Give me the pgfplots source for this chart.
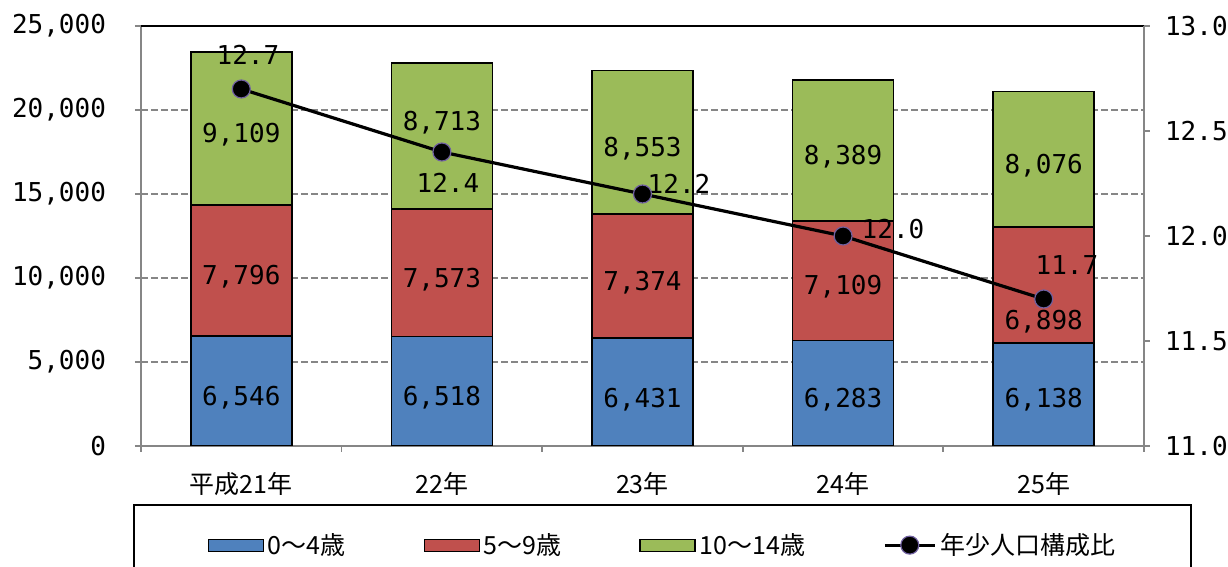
\documentclass[border=0pt]{standalone}
\usepackage{fontspec}
\setmainfont{Noto Sans CJK JP}
\newfontfamily\numfont{DejaVu Sans Mono}
\usepackage{pgfplots}
\pgfplotsset{compat=1.18}
\definecolor{cA}{HTML}{4F81BD}
\definecolor{cB}{HTML}{C0504D}
\definecolor{cC}{HTML}{9BBB59}
\definecolor{axgray}{HTML}{868686}
\definecolor{mkedge}{HTML}{7060A0}
\newcommand{\nf}{\numfont\fontsize{13}{15}\selectfont}
\newcommand{\jf}{\fontsize{12.5}{15}\selectfont}
\pgfplotsset{
  linelegend/.style={legend image code/.code={\draw[mark repeat=2,mark phase=2,##1] plot coordinates {(0pt,0pt)(12.5pt,0pt)(25pt,0pt)};}},
  barlegend/.style={legend image code/.code={\draw[fill=#1,draw=black,line width=0.6pt] (0pt,-3pt) rectangle (27.5pt,3pt);}},
}
\begin{document}
\begin{tikzpicture}
\path[use as bounding box] (-70.5pt,-60.5pt) rectangle (543.5pt,223pt);
\clip (-70.5pt,-60.5pt) rectangle (543.5pt,223pt);
\begin{axis}[
  at={(0pt,0pt)}, anchor=south west,
  scale only axis, width=501.5pt, height=210pt,
  xmin=-0.5, xmax=4.5, ymin=0, ymax=25000,
  ybar stacked, bar width=50.5pt,
  axis x line*=bottom, axis y line*=left,
  xtick={0,1,2,3,4},
  xticklabels={平成21年,22年,23年,24年,25年},
  minor xtick={-0.5,0.5,1.5,2.5,3.5,4.5},
  major x tick style={draw=none},
  tick align=outside,
  major tick length=3pt, minor tick length=3pt,
  ytick={0,5000,10000,15000,20000,25000},
  scaled y ticks=false,
  ymajorgrids,
  major grid style={axgray, dash pattern=on 3.5pt off 1.5pt, line width=0.8pt},
  extra y ticks={25000}, extra y tick labels={},
  extra y tick style={grid=major, major grid style={black, solid, line width=0.7pt}, major tick length=0pt},
  axis line style={axgray, line width=0.9pt},
  tick style={axgray, line width=0.9pt},
  /pgf/number format/1000 sep={,},
  /pgf/number format/assume math mode=true,
  yticklabel style={font=\nf, xshift=-11pt},
  xticklabel style={font=\jf, yshift=-6.5pt},
]
\addplot[fill=cA, draw=black, line width=0.8pt] coordinates {(0,6546)(1,6518)(2,6431)(3,6283)(4,6138)};
\addplot[fill=cB, draw=black, line width=0.8pt] coordinates {(0,7796)(1,7573)(2,7374)(3,7109)(4,6898)};
\addplot[fill=cC, draw=black, line width=0.8pt] coordinates {(0,9109)(1,8713)(2,8553)(3,8389)(4,8076)};
\end{axis}
\begin{axis}[
  at={(0pt,0pt)}, anchor=south west,
  scale only axis, width=501.5pt, height=210pt,
  xmin=-0.5, xmax=4.5, ymin=11, ymax=13,
  axis x line=none, axis y line*=right,
  ytick={11,11.5,12,12.5,13},
  tick align=outside, major tick length=3pt,
  axis line style={axgray, line width=0.9pt},
  tick style={axgray, line width=0.9pt},
  /pgf/number format/assume math mode=true,
  yticklabel style={font=\nf, xshift=4pt, /pgf/number format/.cd, fixed, fixed zerofill, precision=1},
  legend style={draw=none, fill=none, at={(axis description cs:0.066,-0.236)}, anchor=west,
    inner sep=0pt, font=\jf, legend columns=4,
    /tikz/every even column/.append style={column sep=37pt}},
]
\addlegendimage{barlegend=cA}
\addlegendentry{0～4歳}
\addlegendimage{barlegend=cB}
\addlegendentry{5～9歳}
\addlegendimage{barlegend=cC}
\addlegendentry{10～14歳}
% bar segment labels (positions on the 11-13 scale, equal to count/12500 + 11)
\node[font=\nf] at (axis cs:0,11.229) {6,546};
\node[font=\nf] at (axis cs:0,11.805) {7,796};
\node[font=\nf] at (axis cs:0,12.481) {9,109};
\node[font=\nf] at (axis cs:1,11.229) {6,518};
\node[font=\nf] at (axis cs:1,11.790) {7,573};
\node[font=\nf] at (axis cs:1,12.538) {8,713};
\node[font=\nf] at (axis cs:2,11.219) {6,431};
\node[font=\nf] at (axis cs:2,11.776) {7,374};
\node[font=\nf] at (axis cs:2,12.414) {8,553};
\node[font=\nf] at (axis cs:3,11.219) {6,283};
\node[font=\nf] at (axis cs:3,11.757) {7,109};
\node[font=\nf] at (axis cs:3,12.376) {8,389};
\node[font=\nf] at (axis cs:4,11.219) {6,138};
\node[font=\nf] at (axis cs:4,11.590) {6,898};
\node[font=\nf] at (axis cs:4,12.333) {8,076};
\node[font=\nf] at (axis cs:0.033,12.862) {12.7};
\node[font=\nf] at (axis cs:1.030,12.252) {12.4};
\node[font=\nf] at (axis cs:2.182,12.248) {12.2};
\node[font=\nf] at (axis cs:3.249,12.033) {12.0};
\node[font=\nf] at (axis cs:4.116,11.862) {11.7};
\addplot[black, line width=1.6pt, mark=*, mark size=4.5pt,
  mark options={fill=black, draw=mkedge, line width=0.6pt}, linelegend]
  coordinates {(0,12.7)(1,12.4)(2,12.2)(3,12.0)(4,11.7)};
\addlegendentry{年少人口構成比}
\end{axis}
\draw[line width=1pt] (-3.5pt,-29.5pt) rectangle (525pt,-90pt);
\end{tikzpicture}
\end{document}
